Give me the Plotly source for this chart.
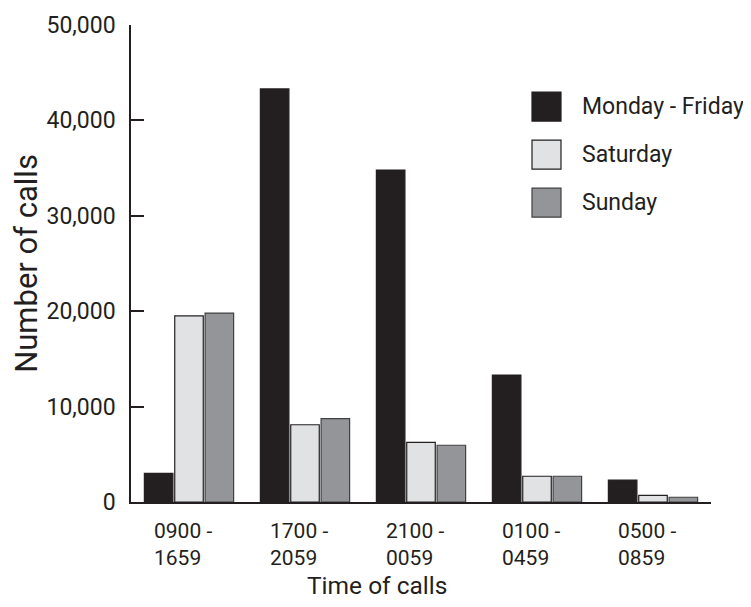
import plotly.graph_objects as go

# ---- data ----
time_slots = ["0900 -<br>1659", "1700 -<br>2059", "2100 -<br>0059", "0100 -<br>0459", "0500 -<br>0859"]
series_names = ["Monday - Friday", "Saturday", "Sunday"]
mon_fri = [3000, 43300, 34800, 13300, 2300]
saturday = [19500, 8100, 6250, 2700, 700]
sunday = [19800, 8750, 5950, 2700, 500]
y_ticks = [0, 10000, 20000, 30000, 40000, 50000]
y_tick_labels = ["0", "10,000", "20,000", "30,000", "40,000", "50,000"]

# ---- style ----
OFF = 8  # page body margin compensation
W, H = 751 - OFF, 607 - OFF
PLOT_L, PLOT_R, PLOT_T, PLOT_B = 131, 711, 25, 501.7  # target page pixels
L, R, T = PLOT_L - OFF, W - (PLOT_R - OFF), PLOT_T - OFF
B = H - (PLOT_B - OFF)
INK = "#231f20"
fills = ["#231f20", "#e1e2e4", "#939598"]
outlines = ["#231f20", "#231f20", "#414042"]
FONT = "Roboto"

fig = go.Figure()
for name, vals, fc, lc in zip(series_names, [mon_fri, saturday, sunday], fills, outlines):
    fig.add_trace(go.Bar(x=time_slots, y=vals, name=name,
                         marker=dict(color=fc, line=dict(color=lc, width=1.2))))

def px_x(p):
    return (p - PLOT_L) / (PLOT_R - PLOT_L)

def px_y(p):
    return (PLOT_B - p) / (PLOT_B - PLOT_T)

shapes = []
annotations = []
# legend drawn manually (large square swatches)
box_left, box_size, first_top, step = 532, 29, 92, 48
for i, (name, fc, lc) in enumerate(zip(series_names, fills, outlines)):
    top = first_top + i * step
    shapes.append(dict(type="rect", xref="paper", yref="paper",
                       x0=px_x(box_left), x1=px_x(box_left + box_size),
                       y0=px_y(top + box_size), y1=px_y(top),
                       fillcolor=fc, line=dict(color=lc, width=1.2)))
    annotations.append(dict(xref="paper", yref="paper", x=px_x(580), y=px_y(top + box_size / 2),
                            text=name, showarrow=False, xanchor="left", yanchor="middle",
                            font=dict(family=FONT, size=23, color=INK)))

# left-aligned two-line category labels
for cat in time_slots:
    annotations.append(dict(xref="x", yref="paper", x=cat, y=0, text=cat, showarrow=False,
                            xanchor="left", yanchor="top", align="left", xshift=-37, yshift=-15,
                            font=dict(family=FONT, size=21, color=INK)))

# x-axis title
annotations.append(dict(xref="paper", yref="paper", x=px_x(377), y=px_y(585), text="Time of calls",
                        showarrow=False, xanchor="center", yanchor="middle",
                        font=dict(family=FONT, size=24.5, color=INK)))

fig.update_layout(
    width=W, height=H,
    margin=dict(l=L, r=R, t=T, b=B, pad=0, autoexpand=False),
    paper_bgcolor="white", plot_bgcolor="white",
    barmode="group", bargap=0.215, bargroupgap=0.06,
    showlegend=False,
    font=dict(family=FONT, color=INK),
    shapes=shapes, annotations=annotations,
    xaxis=dict(type="category", range=[-0.5, 4.5], showticklabels=False, ticks="",
               automargin=False,
               showgrid=False, zeroline=False, showline=True, linecolor=INK, linewidth=1.5),
    yaxis=dict(range=[0, 50000], tickvals=y_ticks, ticktext=y_tick_labels, automargin=False,
               ticks="inside", ticklen=13, tickwidth=1.5, tickcolor=INK,
               showgrid=False, zeroline=False, showline=True, linecolor=INK, linewidth=1.5,
               tickfont=dict(family=FONT, size=23, color=INK), ticklabelstandoff=9,
               title=dict(text="Number of calls", font=dict(family=FONT, size=31, color=INK), standoff=7)),
)

fig.write_html("out.html")
